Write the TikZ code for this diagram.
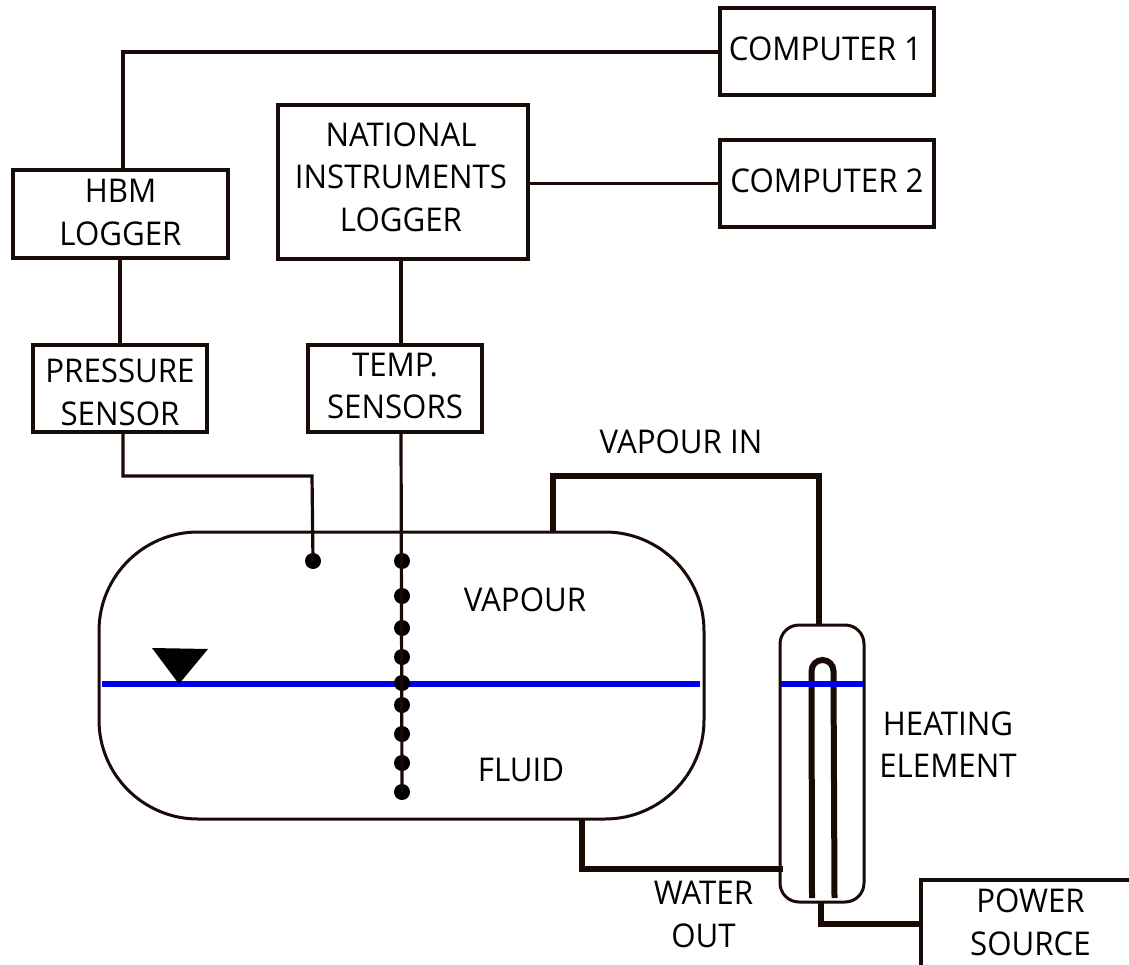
\documentclass[tikz,border=0pt]{standalone}
\usepackage{fontspec}
\setmainfont[FakeStretch=0.955]{Open Sans}
\definecolor{ink}{HTML}{1A0A06}
\definecolor{level}{HTML}{0000F0}
\newcommand{\lab}{\fontsize{32.7}{42.3}\selectfont}
\newcommand{\capsblock}[3]{\raisebox{\dimexpr -9.7pt-(#2pt)\relax}[0pt][0pt]{\kern#1pt\makebox[0pt]{\begin{tabular}[c]{@{}c@{}}#3\end{tabular}}\kern-#1pt}}
\tikzset{
  x=1pt,y=-1pt,
  every node/.style={outer sep=0pt,inner sep=0pt},
  boxnode/.style={draw=ink,line width=3.5pt,fill=white,font=\lab,text=black},
  lab/.style={font=\lab,text=black},
  wire/.style={draw=ink,line width=3.2pt},
  pipe/.style={draw=ink,line width=5.8pt,line join=miter},
  water/.style={draw=level,line width=5.8pt},
  shell/.style={draw=ink,line width=3pt,fill=white},
  sensor/.style={circle,fill=black,minimum size=16pt},
}
\newcommand{\boxat}[8]{\node[boxnode,minimum width=#4 pt-#3 pt,minimum height=#6 pt-#5 pt] (#1) at ({(#3+#4)/2},{(#5+#6)/2}) {\capsblock{#7}{#8}{#2}};}
\newcommand{\labat}[4]{\node[lab] (#1) at (#3,#4) {\capsblock{0}{0}{#2}};}
\begin{document}
\begin{tikzpicture}
\useasboundingbox[fill=white] (0,0) rectangle (1129,965);
% vessel and heater bodies
\node[shell,rounded corners=99pt,minimum width=605pt,minimum height=287pt] (vessel) at (401.5,675.5) {};
\node[shell,rounded corners=19pt,minimum width=84pt,minimum height=277pt] (heater) at (822,763.5) {};
% boxes
\boxat{comp1}{COMPUTER 1}{720}{934}{8}{95}{-1.5}{-3}
\boxat{comp2}{COMPUTER 2}{720}{934}{140}{227}{0}{-3}
\boxat{ni}{NATIONAL\\INSTRUMENTS\\LOGGER}{278}{528}{105}{259}{-2}{-5}
\boxat{hbm}{HBM\\LOGGER}{13}{228}{170}{258}{0}{-1.8}
\boxat{press}{PRESSURE\\SENSOR}{33}{207}{345}{432}{0}{3.5}
\boxat{temp}{TEMP.\\SENSORS}{308}{482}{345}{432}{0}{-2.8}
% water level
\coordinate (wl) at (102,684);
\coordinate (wr) at (700,684);
\coordinate (hl) at (781,684);
\coordinate (hr) at (863,684);
\draw[water] (wl) -- (wr);
\coordinate (marker) at (179,684);
\fill[black] (152,648) -- (208,649) -- (marker) -- cycle;
% sensors
\node[sensor] (ps) at (313,561) {};
\foreach \n/\y in {1/561,2/596,3/628,4/657,5/683,6/705,7/734,8/763,9/792}{
  \node[sensor] (t\n) at (402,\y) {};
}
% signal wires
\coordinate (c1a) at (123,52);
\coordinate (hbmin) at (123,170);
\draw[wire] (comp1.west |- c1a) -- (c1a) -- (hbmin);
\draw[wire] (ni.east |- comp2.west) -- (comp2.west);
\coordinate (hbmo) at (120,258);
\coordinate (prin) at (120,345);
\draw[wire] (hbmo) -- (prin);
\coordinate (nio) at (401,259);
\coordinate (tin) at (401,345);
\draw[wire] (nio) -- (tin);
\coordinate (pra) at (123,432);
\coordinate (prb) at (123,476);
\coordinate (prc) at (312,476);
\draw[wire] (pra) -- (prb) -- (prc) -- (ps.center);
\coordinate (tout) at (401,432);
\draw[wire] (tout) -- (t9.center);
% pipes
\coordinate (vi0) at (553,533);
\coordinate (vi1) at (553,476);
\coordinate (vi2) at (819,476);
\coordinate (vi3) at (819,625);
\draw[pipe] (vi0) -- (vi1) -- (vi2) -- (vi3);
\coordinate (wo0) at (582,819);
\coordinate (wo1) at (582,869);
\coordinate (wo2) at (783,869);
\draw[pipe] (wo0) -- (wo1) -- (wo2);
\coordinate (po0) at (821,902);
\coordinate (po1) at (821,924);
\coordinate (po2) at (921,924);
\draw[pipe] (po0) -- (po1) -- (po2);
% power source open box
\coordinate (pb0) at (1129,880);
\coordinate (pb1) at (921,880);
\coordinate (pb2) at (921,965);
\draw[wire] (pb0) -- (pb1) -- (pb2);
% heating tube
\draw[draw=ink,line width=6pt] (812,898) -- (811.5,671) arc[start angle=180,end angle=0,radius=11pt] -- (834.5,898);
\draw[water] (hl) -- (hr);
% labels
\labat{lvapin}{VAPOUR IN}{681}{442}
\labat{lvap}{VAPOUR}{525}{600}
\labat{lflu}{FLUID}{521}{770}
\labat{lheat}{HEATING\\ELEMENT}{948}{744.5}
\labat{lwat}{WATER\\OUT}{703.5}{914}
\labat{lpow}{POWER\\SOURCE}{1030.5}{922}
\end{tikzpicture}
\end{document}
